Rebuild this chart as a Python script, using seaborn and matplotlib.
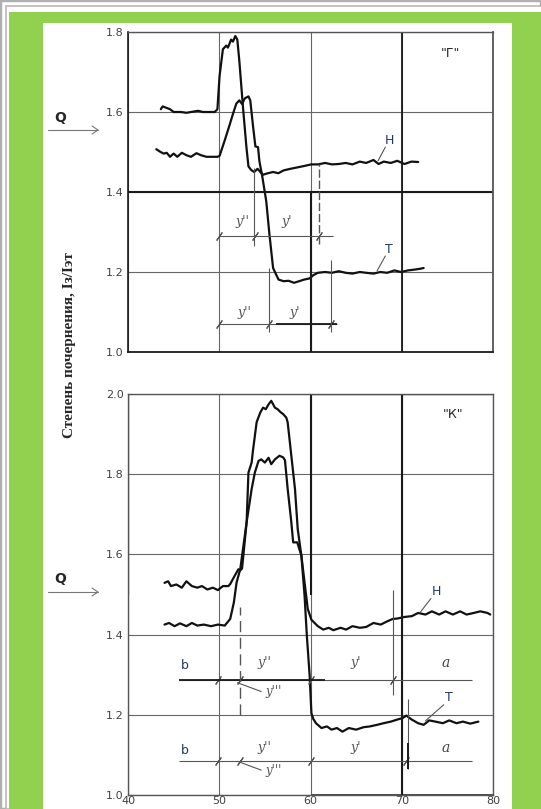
import numpy as np
import pandas as pd
import seaborn as sns
import matplotlib.pyplot as plt
from matplotlib.patches import Rectangle

# ---- данные ----
x_ticks = [40, 50, 60, 70, 80]
y_ticks_g = [1.0, 1.2, 1.4, 1.6, 1.8]
y_ticks_k = [1.0, 1.2, 1.4, 1.6, 1.8, 2.0]

# панель "Г", кривая, уходящая в H
g_h_x = [43.6, 43.8, 44.6, 45.0, 45.8, 46.4, 46.9, 47.7, 48.2, 48.9, 49.5, 49.8, 50.03, 50.4, 50.77,
         50.95, 51.3, 51.5, 51.76, 51.98, 52.2, 52.6, 52.97, 53.2, 53.5,
         53.83, 54.2, 54.77, 55.34, 55.9, 56.48, 57.05, 57.8, 58.56, 59.3, 60.08, 60.83, 61.6, 62.35,
         63.1, 63.86, 64.6, 65.4, 66.1, 66.9, 67.46, 68.03, 68.8, 69.5, 70.3, 71.06, 71.8]
g_h_y = [1.607, 1.614, 1.607, 1.6, 1.6, 1.598, 1.6, 1.603, 1.6, 1.6, 1.6, 1.607, 1.689, 1.757, 1.766,
         1.761, 1.781, 1.776, 1.79, 1.781, 1.728, 1.612, 1.514, 1.464, 1.455,
         1.450, 1.458, 1.443, 1.447, 1.450, 1.447, 1.454, 1.458, 1.4615, 1.465, 1.469, 1.469, 1.4726, 1.469,
         1.470, 1.4726, 1.469, 1.476, 1.4726, 1.48, 1.470, 1.476, 1.4726, 1.478, 1.470, 1.476, 1.475]
# панель "Г", кривая, уходящая в T
g_t_x = [43.1, 43.5, 43.9, 44.25, 44.6, 45.0, 45.4, 45.9, 46.4, 46.9, 47.5, 48.0, 48.6, 49.1, 49.8,
         50.03, 50.6, 51.1, 51.5, 51.87, 52.2, 52.5, 52.8, 53.2, 53.4, 53.7, 53.96, 54.25, 54.4, 54.7,
         55.15, 55.5, 55.9, 56.1, 56.5, 57.05, 57.6, 58.2, 58.75, 59.3, 59.9, 60.3, 60.8, 61.6, 62.35,
         63.1, 63.86, 64.6, 65.4, 66.1, 66.9, 67.65, 68.4, 69.2, 69.9, 70.7, 71.4, 72.0, 72.4]
g_t_y = [1.507, 1.501, 1.496, 1.498, 1.488, 1.496, 1.488, 1.498, 1.492, 1.488, 1.497, 1.492, 1.488, 1.488, 1.488,
         1.49, 1.529, 1.565, 1.595, 1.621, 1.629, 1.62, 1.634, 1.639, 1.629, 1.565, 1.514, 1.512, 1.477, 1.441,
         1.377, 1.294, 1.21, 1.2, 1.181, 1.177, 1.178, 1.173, 1.177, 1.181, 1.184, 1.192, 1.198, 1.2, 1.198,
         1.202, 1.198, 1.196, 1.2, 1.198, 1.196, 1.2, 1.198, 1.204, 1.2, 1.204, 1.206, 1.208, 1.21]

# панель "К", кривая, уходящая в H
k_h_x = [44.0, 44.4, 44.7, 45.3, 45.9, 46.4, 47.0, 47.6, 48.1, 48.7, 49.3, 49.85, 50.4, 51.0, 51.2,
         51.7, 52.1, 52.3, 52.5, 53.0, 53.2, 53.55, 53.7, 54.1, 54.5, 54.8, 55.1, 55.4, 55.7, 56.1,
         56.4, 56.7, 57.0, 57.35, 57.5, 57.9, 58.3, 58.6, 59.0, 59.35, 59.7, 60.1,
         60.8, 61.4, 62.0, 62.5, 63.3, 63.9, 64.6, 65.4, 66.1, 66.9, 67.7, 68.4, 69.0, 69.5, 70.3,
         71.1, 71.8, 72.6, 73.3, 74.1, 74.8, 75.6, 76.4, 77.1, 77.9, 78.6, 79.4, 79.7]
k_h_y = [1.529, 1.533, 1.521, 1.525, 1.517, 1.533, 1.521, 1.517, 1.521, 1.5125, 1.517, 1.511, 1.521, 1.521, 1.526,
         1.547, 1.563, 1.56, 1.565, 1.68, 1.804, 1.829, 1.86, 1.93, 1.954, 1.966, 1.962, 1.974, 1.983, 1.966,
         1.962, 1.955, 1.95, 1.941, 1.929, 1.846, 1.763, 1.663, 1.597, 1.53, 1.464, 1.437,
         1.421, 1.4125, 1.417, 1.411, 1.417, 1.4125, 1.421, 1.417, 1.419, 1.429, 1.425, 1.433, 1.439, 1.44, 1.444,
         1.446, 1.454, 1.45, 1.458, 1.45, 1.458, 1.45, 1.458, 1.45, 1.454, 1.458, 1.454, 1.45]
# панель "К", кривая, уходящая в T
k_t_x = [44.0, 44.5, 45.1, 45.7, 46.4, 47.0, 47.6, 48.3, 49.1, 49.85, 50.6, 51.2, 51.6, 51.9, 52.3,
         52.6, 53.0, 53.55, 53.9, 54.3, 54.6, 55.0, 55.4, 55.7, 56.1, 56.6, 57.0, 57.2, 57.5, 57.9,
         58.1, 58.55, 59.0, 59.35, 59.6, 59.9, 60.1, 60.3, 60.6, 61.2, 61.8, 62.3, 62.9, 63.5, 64.2,
         65.0, 65.8, 66.5, 67.3, 68.0, 68.8, 69.5, 70.1, 70.5, 71.1, 71.8, 72.4, 73.0, 73.7, 74.5,
         75.2, 76.0, 76.7, 77.5, 78.4]
k_t_y = [1.425, 1.429, 1.421, 1.428, 1.421, 1.429, 1.4225, 1.425, 1.421, 1.425, 1.4225, 1.439, 1.48, 1.53, 1.563,
         1.613, 1.68, 1.763, 1.804, 1.833, 1.837, 1.829, 1.841, 1.825, 1.837, 1.846, 1.842, 1.835, 1.763, 1.68,
         1.63, 1.63, 1.597, 1.497, 1.397, 1.30, 1.204, 1.19, 1.179, 1.167, 1.171, 1.163, 1.167, 1.158, 1.167,
         1.163, 1.169, 1.171, 1.175, 1.179, 1.183, 1.188, 1.192, 1.198, 1.188, 1.179, 1.175, 1.186, 1.183, 1.179,
         1.186, 1.179, 1.183, 1.178, 1.183]

W, H = 541, 809
def fx(px): return px / W
def fy(py): return 1 - py / H

sns.set_style('white')
plt.rcParams['font.family'] = ['DejaVu Sans']
fig = plt.figure(figsize=(W / 100, H / 100), dpi=100)

# рамка: серая, зелёная, белая
fig.add_artist(Rectangle((0, 0), 1, 1, transform=fig.transFigure, fc='white', ec='#b0b0b0', lw=2.5, zorder=-5))
fig.add_artist(Rectangle((fx(6), 0), 1, fy(6), transform=fig.transFigure, fc='white', ec='#b8b8b8', lw=1.2, zorder=-4))
fig.add_artist(Rectangle((fx(9), 0), 1, fy(12), transform=fig.transFigure, fc='#92D050', ec='none', zorder=-3))
fig.add_artist(Rectangle((fx(43), 0), fx(512) - fx(43), fy(23), transform=fig.transFigure, fc='white', ec='none', zorder=-2))

ax1 = fig.add_axes([fx(128), fy(352), fx(493) - fx(128), fy(32) - fy(352)])
ax2 = fig.add_axes([fx(128), fy(795), fx(493) - fx(128), fy(394) - fy(795)])
for ax in (ax1, ax2):
    ax.set_facecolor('none')

df = pd.concat([
    pd.DataFrame({'x': g_h_x, 'y': g_h_y, 'curve': 'H'}),
    pd.DataFrame({'x': g_t_x, 'y': g_t_y, 'curve': 'T'}),
])
sns.lineplot(data=df, x='x', y='y', units='curve', estimator=None, sort=False, color='#111111', lw=1.6, ax=ax1)
df2 = pd.concat([
    pd.DataFrame({'x': k_h_x, 'y': k_h_y, 'curve': 'H'}),
    pd.DataFrame({'x': k_t_x, 'y': k_t_y, 'curve': 'T'}),
])
sns.lineplot(data=df2, x='x', y='y', units='curve', estimator=None, sort=False, color='#111111', lw=1.6, ax=ax2)

for ax, yt in ((ax1, y_ticks_g), (ax2, y_ticks_k)):
    ax.set_xlim(x_ticks[0], x_ticks[-1])
    ax.set_ylim(yt[0], yt[-1])
    ax.set_xticks(x_ticks)
    ax.set_yticks(yt)
    ax.set_yticklabels([f'{v:.1f}' for v in yt])
    ax.grid(True, color='#666666', lw=0.8)
    ax.tick_params(length=0, labelsize=8, colors='#404040', pad=3)
    ax.set_xlabel('')
    ax.set_ylabel('')
    for s in ax.spines.values():
        s.set_color('#555555')
        s.set_linewidth(1.0)
ax1.set_xticklabels([])
ax2.set_xticklabels([str(v) for v in x_ticks])
ax2.tick_params(axis='x', pad=1)

# жирные линии сетки
k = '#1a1a1a'
ax1.axhline(1.4, color=k, lw=1.5)
ax1.vlines(60, 1.0, 1.4, color=k, lw=1.5)
ax1.vlines(70, 1.0, 1.8, color=k, lw=1.3)
ax1.spines['bottom'].set_color(k); ax1.spines['bottom'].set_linewidth(1.3)
ax1.spines['left'].set_color(k); ax1.spines['left'].set_linewidth(1.2)
ax1.spines['right'].set_linewidth(1.3)
ax2.hlines(2.0, 60, 80, color=k, lw=1.6)
ax2.hlines(1.0, 60, 80, color=k, lw=1.8)
ax2.vlines(60, 1.5, 2.0, color=k, lw=1.5)
ax2.vlines(70, 1.0, 2.0, color=k, lw=1.5)
ax2.vlines(40, 1.5, 2.0, color=k, lw=1.6)

grey = '#555555'
def dim_line(ax, y, x0, x1, ticks):
    ax.hlines(y, x0, x1, color=grey, lw=0.8)
    ax.plot(ticks, [y] * len(ticks), ls='none', marker=(2, 2, -35), ms=7, mew=0.8, color=grey)

def ylab(ax, s, x, y, size=9):
    ax.text(x, y, s, fontsize=size, style='italic', family='DejaVu Serif', color=grey, ha='center', va='center')

# --- панель "Г" ---
dim_line(ax1, 1.29, 50, 62.5, [50, 53.9, 60.9])
dim_line(ax1, 1.071, 50, 62.9, [50, 55.5, 62.2])
ax1.hlines(1.071, 56.2, 62.9, color=k, lw=1.3)
ax1.vlines(53.85, 1.265, 1.46, color=grey, lw=0.8)
ax1.vlines(60.9, 1.27, 1.47, color=grey, lw=1.0, linestyles=(0, (6, 2)))
ax1.vlines(55.5, 1.05, 1.21, color=grey, lw=0.8)
ax1.vlines(62.2, 1.05, 1.23, color=grey, lw=0.8)
ylab(ax1, "y''", 52.5, 1.327)
ylab(ax1, "y'", 57.4, 1.327)
ylab(ax1, "y''", 52.8, 1.098)
ylab(ax1, "y'", 58.3, 1.098)
ax1.text(68.6, 1.528, 'H', fontsize=9, color='#1F3864', ha='center', va='center')
ax1.plot([67.4, 68.2], [1.478, 1.512], color=grey, lw=0.8)
ax1.text(68.6, 1.256, 'T', fontsize=9, color='#1F3864', ha='center', va='center')
ax1.plot([67.3, 68.2], [1.203, 1.24], color=grey, lw=0.8)
ax1.text(75.3, 1.747, '"Г"', fontsize=9, color='#222222', ha='center', va='center')

# --- панель "К" ---
dim_line(ax2, 1.287, 45.6, 77.7, [49.85, 52.3, 60.1, 69.0])
ax2.hlines(1.287, 45.6, 61.6, color=k, lw=1.3)
dim_line(ax2, 1.085, 45.6, 77.7, [49.85, 52.3, 60.1, 70.5])
ax2.vlines(52.3, 1.2, 1.47, color=grey, lw=1.0, linestyles=(0, (8, 4)))
ax2.vlines(69.0, 1.25, 1.51, color=grey, lw=0.8)
ax2.vlines(70.7, 1.065, 1.24, color=grey, lw=0.8)
ax2.vlines(70.7, 1.065, 1.13, color=k, lw=1.4)
for yy, yl in ((1.33, 1.258), (1.118, 1.062)):
    ylab(ax2, "y''", 55.0, yy)
    ylab(ax2, "y'", 65.0, yy)
    ax2.text(74.8, yy, 'a', fontsize=10, style='italic', family='DejaVu Serif', color='#444444', ha='center', va='center')
    ax2.text(46.2, yy - 0.008, 'b', fontsize=9, color='#1F3864', ha='center', va='center')
    ylab(ax2, "y'''", 56.0, yl, size=8.5)
    ax2.plot([52.0, 54.6], [yl + 0.022, yl], color=grey, lw=0.8)
ax2.text(73.8, 1.508, 'H', fontsize=9, color='#1F3864', ha='center', va='center')
ax2.plot([72.0, 73.2], [1.455, 1.49], color=grey, lw=0.8)
ax2.text(75.2, 1.242, 'T', fontsize=9, color='#1F3864', ha='center', va='center')
ax2.plot([72.6, 74.6], [1.185, 1.225], color=grey, lw=0.8)
ax2.text(75.6, 1.95, '"К"', fontsize=9, color='#222222', ha='center', va='center')

# подписи слева
for qy, ay in ((118, 130), (579, 592)):
    fig.text(fx(60), fy(qy), 'Q', fontsize=10, fontweight='bold', ha='center', va='center')
    fig.add_artist(plt.Line2D([fx(48), fx(98)], [fy(ay), fy(ay)], color='#777777', lw=0.8))
    fig.add_artist(plt.Line2D([fx(92), fx(98), fx(92)], [fy(ay - 4), fy(ay), fy(ay + 4)], color='#777777', lw=0.8))
fig.text(fx(70), fy(345), 'Степень почернения, Iз/Iэт', rotation=90, fontsize=11, fontweight='bold',
         family=['Liberation Serif', 'DejaVu Serif'], ha='center', va='center')

fig.savefig('out.png', dpi=100)
